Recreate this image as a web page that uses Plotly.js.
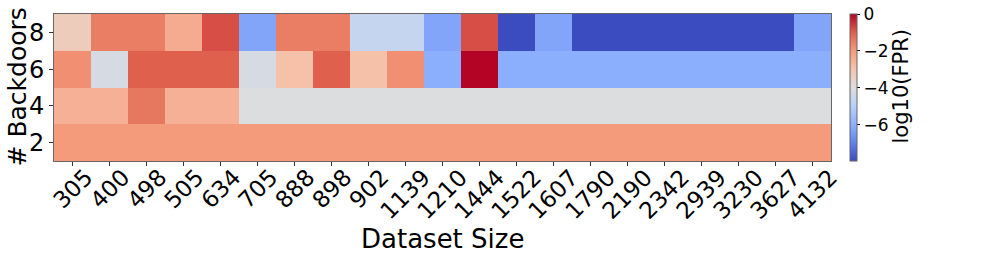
<!DOCTYPE html>
<html>
<head>
<meta charset="utf-8">
<script src="https://cdn.plot.ly/plotly-3.0.1.min.js"></script>
<style>html,body{margin:0;padding:0;background:#fff;}#chart{width:997px;height:260px;}</style>
</head>
<body>
<div id="chart"></div>
<script>
// Dataset sizes (x categories)
const datasetSizes = [305, 400, 498, 505, 634, 705, 888, 898, 902, 1139, 1210, 1444, 1522, 1607, 1790, 2190, 2342, 2939, 3230, 3627, 4132];
// Number of backdoors (y rows)
const backdoors = [2, 4, 6, 8];
// log10(FPR) per row
const row2 = [-2.0, -2.0, -2.0, -2.0, -2.0, -2.0, -2.0, -2.0, -2.0, -2.0, -2.0, -2.0, -2.0, -2.0, -2.0, -2.0, -2.0, -2.0, -2.0, -2.0, -2.0];
const row4 = [-2.5, -2.5, -1.4, -2.5, -2.5, -4.0, -4.0, -4.0, -4.0, -4.0, -4.0, -4.0, -4.0, -4.0, -4.0, -4.0, -4.0, -4.0, -4.0, -4.0, -4.0];
const row6 = [-1.8, -4.2, -1.0, -1.0, -1.0, -4.2, -2.9, -1.0, -2.9, -1.8, -6.0, 0.0, -6.0, -6.0, -6.0, -6.0, -6.0, -6.0, -6.0, -6.0, -6.0];
const row8 = [-3.3, -1.5, -1.5, -2.4, -0.8, -6.2, -1.5, -1.5, -4.6, -4.6, -6.2, -0.8, -7.95, -6.2, -7.95, -7.95, -7.95, -7.95, -7.95, -7.95, -6.2];
const colorbarTicks = [0, -2, -4, -6];

const coolwarm = [
  [0.0, 'rgb(59,76,192)'],
  [0.125, 'rgb(98,130,234)'],
  [0.25, 'rgb(141,176,254)'],
  [0.375, 'rgb(184,208,249)'],
  [0.5, 'rgb(221,221,221)'],
  [0.625, 'rgb(245,196,173)'],
  [0.75, 'rgb(244,154,123)'],
  [0.875, 'rgb(222,96,77)'],
  [1.0, 'rgb(180,4,38)']
];

const xIdx = datasetSizes.map((_, i) => i);
const FONT = 'DejaVu Sans, sans-serif';

const trace = {
  type: 'heatmap',
  x: xIdx,
  y: backdoors,
  z: [row2, row4, row6, row8],
  colorscale: coolwarm,
  hoverongaps: false,
  colorbar: {
    thickness: 7,
    len: 1,
    lenmode: 'fraction',
    y: 0.5,
    yanchor: 'middle',
    ypad: 0,
    x: 1.0245,
    xanchor: 'left',
    xpad: 0,
    outlinewidth: 1,
    outlinecolor: '#666',
    tickmode: 'array',
    tickvals: colorbarTicks,
    ticks: 'outside',
    ticklen: 3,
    tickcolor: '#000',
    tickfont: {family: FONT, size: 17, color: '#000'}
  }
};

// rotated x tick labels centred under each tick (matplotlib style)
const xLabelAnns = datasetSizes.map((s, i) => ({
  text: String(s), xref: 'x', yref: 'paper', x: i, y: -0.022,
  xanchor: 'center', yanchor: 'top', textangle: -45, showarrow: false,
  borderpad: 0, borderwidth: 0,
  font: {family: FONT, size: 23, color: '#000'}
}));

const layout = {
  width: 997,
  height: 260,
  margin: {l: 54, r: 166, t: 14, b: 99},
  paper_bgcolor: '#fff',
  plot_bgcolor: '#fff',
  font: {family: FONT, color: '#000'},
  xaxis: {
    range: [-0.5, datasetSizes.length - 0.5],
    tickmode: 'array',
    tickvals: xIdx,
    showticklabels: false,
    ticks: 'outside',
    ticklen: 4,
    tickcolor: '#333',
    showline: true,
    mirror: true,
    linecolor: '#666',
    linewidth: 1,
    showgrid: false,
    zeroline: false,
    automargin: false
  },
  yaxis: {
    range: [1, 9],
    tickmode: 'array',
    tickvals: backdoors,
    ticktext: backdoors.map(String),
    tickfont: {family: FONT, size: 24, color: '#000'},
    ticks: 'outside',
    ticklen: 4,
    tickcolor: '#333',
    showline: true,
    mirror: true,
    linecolor: '#666',
    linewidth: 1,
    showgrid: false,
    zeroline: false,
    automargin: false
  },
  annotations: xLabelAnns.concat([
    {text: 'Dataset Size', xref: 'paper', yref: 'paper', x: 0.5, y: -0.53, xanchor: 'center', yanchor: 'middle', showarrow: false, font: {family: FONT, size: 26, color: '#000'}},
    {text: '# Backdoors', xref: 'paper', yref: 'paper', x: -0.0476, y: 0.5, xanchor: 'center', yanchor: 'middle', textangle: -90, showarrow: false, font: {family: FONT, size: 25, color: '#000'}},
    {text: 'log10(FPR)', xref: 'paper', yref: 'paper', x: (901 - 54) / 777, y: 0.507, xanchor: 'center', yanchor: 'middle', textangle: -90, showarrow: false, font: {family: FONT, size: 21, color: '#000'}}
  ])
};

Plotly.newPlot('chart', [trace], layout, {displayModeBar: false, staticPlot: true});
</script>
</body>
</html>
